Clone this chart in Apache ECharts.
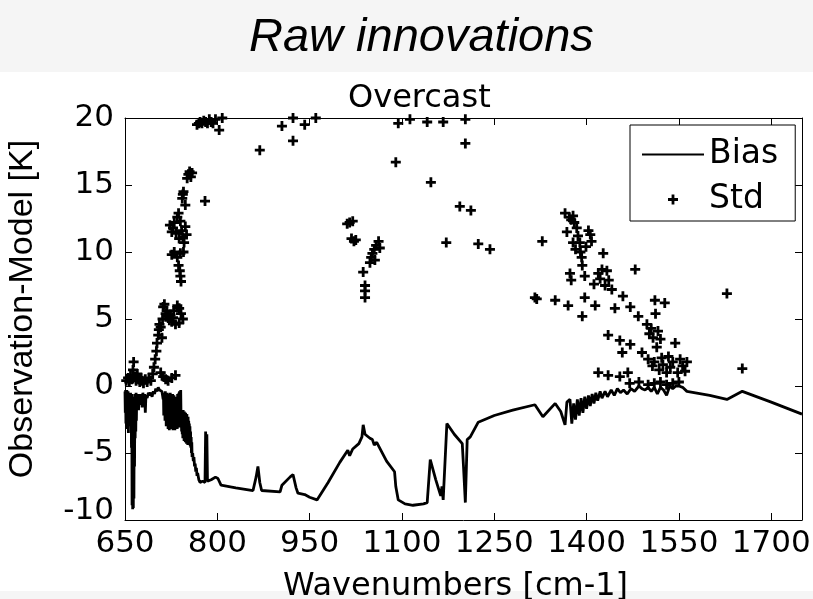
<!DOCTYPE html>
<html>
<head>
<meta charset="utf-8">
<script src="https://cdn.jsdelivr.net/npm/echarts@6/dist/echarts.min.js"></script>
<style>
  html, body { margin: 0; padding: 0; background: #ffffff; }
  #chart { width: 813px; height: 599px; }
</style>
</head>
<body>
<div id="chart"></div>
<script>
// Axis tick values
const xTicks = [650, 800, 950, 1100, 1250, 1400, 1550, 1700];
const yTicks = [-10, -5, 0, 5, 10, 15, 20];

// Bias per channel: [wavenumber (cm-1), observation - model (K)]
const biasSeries = [
  [650, -0.4], [650.5, -2.0], [651, -0.3], [651.5, -2.8], [652, -0.5], [652.5, -1.6], [653, -0.3], [653.5, -3.2],
  [654, -0.6], [654.5, -2.2], [655, -0.4], [655.5, -3.5], [656, -0.7], [656.5, -1.8], [657, -0.5], [657.5, -2.6],
  [658, -0.6], [658.5, -1.4], [659, -0.5], [659.5, -3.0], [660, -0.7], [660.5, -4.6], [661, -0.6], [661.5, -8.9],
  [662, -0.8], [662.5, -9.2], [663, -1.0], [663.5, -9.1], [664, -0.9], [664.5, -8.4], [665, -0.8], [665.5, -6.0],
  [666, -0.6], [666.5, -3.9], [667, -0.7], [667.5, -3.4], [668, -0.5], [668.5, -2.6], [669, -0.8], [670, -1.2],
  [671, -0.6], [672, -1.8], [673, -0.9], [674, -1.4], [675, -0.6], [676, -1.1], [677, -0.7], [678, -1.6],
  [679, -0.5], [680, -1.0], [682, -0.6], [683, -2.0], [684, -0.7], [686, -0.9], [688, -0.5], [690, -0.7],
  [692, -0.5], [694, -0.8], [696, -0.4], [698, -0.6], [700, -0.2], [702, -0.4], [704, -0.1], [706, -0.3],
  [708, -0.2], [710, -0.4], [711, -0.3], [712, -1.0], [712.5, -0.6], [713, -2.2], [713.5, -0.5], [714, -1.8],
  [714.5, -0.7], [715, -2.6], [715.5, -0.4], [716, -1.4], [716.5, -0.6], [717, -3.0], [717.5, -0.8], [718, -2.1],
  [718.5, -0.5], [719, -2.9], [719.5, -0.9], [720, -3.2], [720.5, -0.6], [721, -2.4], [721.5, -1.0], [722, -3.3],
  [722.5, -0.7], [723, -2.7], [723.5, -0.5], [724, -3.1], [724.5, -1.1], [725, -2.5], [725.5, -0.6], [726, -3.2],
  [726.5, -0.9], [727, -2.8], [727.5, -0.6], [728, -3.3], [728.5, -1.2], [729, -2.6], [729.5, -0.7], [730, -3.0],
  [730.5, -1.0], [731, -3.3], [731.5, -0.8], [732, -2.7], [732.5, -1.3], [733, -3.1], [733.5, -0.9], [734, -2.9],
  [734.5, -1.1], [735, -3.2], [735.5, -0.6], [736, -2.8], [736.5, -1.4], [737, -3.0], [737.5, -0.5], [738, -2.5],
  [738.5, -0.4], [739, -3.1], [739.5, -1.2], [740, -2.7], [740.5, -0.3], [741, -2.2], [741.5, -1.9], [742, -3.4],
  [742.5, -1.8], [743, -3.6], [743.5, -2.0], [744, -3.9], [744.5, -1.8], [745, -3.7], [745.5, -2.2], [746, -4.1],
  [746.5, -1.9], [747, -3.8], [747.5, -2.3], [748, -4.2], [748.5, -2.0], [749, -4.0], [749.5, -2.4], [750, -4.3],
  [750.5, -2.1], [751, -3.9], [751.5, -2.5], [752, -4.4], [752.5, -2.3], [753, -4.1], [753.5, -2.6], [754, -4.3],
  [754.5, -2.8], [755, -4.4], [755.5, -3.0], [756, -4.5], [756.5, -3.4], [757, -4.6], [757.5, -3.8], [758, -5.0],
  [758.5, -4.2], [759, -5.3], [760, -5.0], [761, -5.6], [762, -5.3], [763, -6.0], [764, -5.8], [765, -6.4],
  [766, -6.1], [767, -6.7], [768, -6.5], [770, -7.0], [772, -7.2], [776, -7.1], [780, -7.2], [781, -3.4],
  [782, -7.0], [783, -3.6], [784, -7.1], [790, -7.0], [797, -6.8], [801, -6.9], [806, -7.4], [809, -7.5],
  [830, -7.6], [858, -7.8], [863, -6.8], [866, -6.0], [869, -7.2], [872, -7.8], [902, -7.9], [905, -7.4],
  [918, -6.8], [923, -6.6], [928, -7.6], [931, -8.0], [942, -8.1], [950, -8.3], [962, -8.5], [980, -7.2],
  [999, -5.7], [1012, -4.8], [1015, -5.2], [1020, -4.7], [1030, -4.3], [1035, -3.8], [1037, -2.9], [1040, -3.6],
  [1043, -3.5], [1048, -3.9], [1052, -4.0], [1055, -4.4], [1059, -4.2], [1075, -5.6], [1088, -6.4], [1090, -7.5],
  [1094, -8.5], [1105, -8.8], [1118, -8.9], [1135, -8.8], [1141, -8.7], [1146, -5.5], [1155, -7.0], [1163, -8.2],
  [1165, -7.5], [1167, -8.5], [1173, -2.8], [1185, -3.6], [1198, -4.3], [1200, -6.0], [1203, -8.7], [1206, -4.0],
  [1211, -3.8], [1224, -2.7], [1250, -2.2], [1280, -1.8], [1316, -1.4], [1329, -2.3], [1349, -1.3], [1358, -1.9],
  [1365, -2.9], [1368, -1.2], [1373, -1.0], [1376, -2.8], [1379, -1.3], [1382, -2.5], [1385, -1.0], [1388, -2.2],
  [1391, -0.9], [1394, -2.0], [1397, -0.8], [1400, -1.7], [1403, -0.7], [1406, -1.5], [1409, -0.6], [1412, -1.3],
  [1415, -0.5], [1418, -1.1], [1422, -0.4], [1425, -0.9], [1430, -0.4], [1434, -0.8], [1440, -0.3], [1445, -0.7],
  [1450, -0.2], [1455, -0.5], [1460, -0.3], [1466, -0.6], [1472, -0.2], [1478, -0.4], [1485, 0.0], [1490, -0.2],
  [1495, -0.3], [1500, -0.1], [1505, -0.4], [1510, -0.1], [1515, -0.6], [1520, -0.1], [1525, -0.3], [1530, -0.7],
  [1535, 0.0], [1540, -0.2], [1545, 0.0], [1550, 0.0], [1556, -0.1], [1563, -0.4], [1600, -0.7], [1628, -1.0],
  [1653, -0.4], [1700, -1.2], [1750, -2.1]
];

// Standard deviation per channel: [wavenumber (cm-1), K]
const stdSeries = [
  [652, 0.4], [655, 0.6], [657, 0.3], [659, 0.8], [661, 0.5], [663, 1.2], [664, 1.8], [666, 0.7],
  [668, 0.4], [670, 0.9], [672, 0.5], [674, 0.3], [676, 0.6], [678, 0.4], [680, 0.2], [683, 0.5],
  [686, 0.3], [689, 0.6], [692, 0.4], [695, 0.9], [697, 1.4], [699, 2.0], [701, 2.6], [702, 3.2],
  [704, 3.8], [705, 4.2], [706, 4.6], [708, 4.4], [710, 3.6], [711, 5.0], [712, 5.9], [714, 6.1],
  [716, 5.4], [718, 5.6], [720, 5.2], [722, 4.9], [724, 5.3], [726, 4.8], [728, 5.1], [708, 1.0],
  [712, 0.7], [716, 0.5], [720, 0.4], [726, 0.6], [732, 0.8],
  [723, 12.0], [726, 11.5], [728, 11.8], [730, 12.2], [733, 11.4], [735, 12.6], [737, 12.9], [738, 11.0],
  [740, 12.3], [742, 11.6], [744, 11.1], [746, 10.7], [748, 11.9], [750, 11.3], [726, 9.8], [730, 10.0],
  [735, 9.6], [740, 9.9], [745, 10.0], [737, 9.0], [739, 8.6], [740, 8.2], [741, 7.8], [743, 14.0],
  [745, 14.5], [748, 13.5], [744, 14.3], [751, 15.5], [753, 15.8], [755, 16.0], [757, 15.6], [759, 15.9],
  [780, 13.8], [729, 5.6], [735, 6.0], [738, 5.8], [741, 5.4], [744, 5.0], [732, 4.6], [738, 4.7],
  [767, 19.5], [770, 19.6], [772, 19.7], [775, 19.6], [778, 19.8], [781, 19.7], [784, 19.6], [787, 19.9],
  [790, 19.7], [793, 19.6], [797, 19.9], [803, 19.1], [808, 20.0],
  [869, 17.6], [905, 19.4], [923, 20.0], [923, 18.3], [942, 19.5], [960, 20.0],
  [1011, 12.1], [1015, 12.2], [1020, 12.3], [1018, 11.0], [1022, 10.8], [1025, 10.9], [1037, 8.5], [1040, 7.5],
  [1040, 7.1], [1040, 6.6], [1048, 9.2], [1050, 9.6], [1052, 9.9], [1055, 10.2], [1058, 10.5], [1062, 10.8],
  [1064, 10.3], [1056, 9.4], [1090, 16.7], [1094, 19.6], [1113, 19.9], [1141, 19.7], [1147, 15.2], [1167, 19.7],
  [1172, 10.7], [1194, 13.4], [1203, 19.9], [1203, 18.1], [1212, 13.1], [1224, 10.6], [1243, 10.2],
  [1316, 6.6], [1319, 6.5], [1328, 10.8], [1349, 6.4], [1365, 12.9], [1368, 11.5], [1370, 6.0], [1372, 12.6],
  [1375, 12.4], [1378, 12.7], [1380, 12.2], [1373, 8.4], [1375, 7.9], [1378, 10.7], [1382, 10.2], [1384, 11.8],
  [1386, 11.2], [1389, 10.7], [1390, 10.0], [1392, 9.6], [1393, 9.0], [1393, 5.2], [1397, 8.2], [1397, 6.6],
  [1399, 10.4], [1403, 11.6], [1406, 11.3], [1408, 10.8], [1412, 7.6], [1414, 6.0], [1419, 8.4], [1419, 1.0],
  [1422, 8.0], [1425, 8.7], [1427, 9.9], [1430, 7.5], [1433, 8.6], [1436, 7.9], [1435, 3.8], [1435, 0.8],
  [1441, 7.2], [1446, 5.8], [1454, 3.4], [1454, 0.7], [1458, 2.5], [1459, 6.7], [1467, 1.0], [1471, 5.9],
  [1471, 3.1], [1479, 8.7], [1484, 5.2], [1490, 2.5], [1498, 4.6], [1500, 2.0], [1502, 3.9], [1505, 4.3],
  [1507, 1.5], [1508, 3.6], [1510, 1.8], [1511, 6.4], [1512, 5.4], [1514, 2.9], [1516, 4.1], [1518, 1.2],
  [1520, 3.5], [1522, 2.1], [1524, 1.6], [1527, 6.2], [1530, 1.0], [1533, 2.2], [1536, 1.4], [1540, 1.8],
  [1544, 3.2], [1548, 1.0], [1552, 2.0], [1556, 1.5], [1560, 1.1], [1563, 1.8], [1628, 6.9], [1653, 1.3],
  [1470, 0.2], [1485, 0.3], [1500, 0.1], [1510, 0.2], [1520, 0.3], [1530, 0.1], [1540, 0.2], [1550, 0.3]
];

const FONT = "'DejaVu Sans', 'Liberation Sans', sans-serif";
const PLUS = 'path://M-5,-1.4H-1.4V-5H1.4V-1.4H5V1.4H1.4V5H-1.4V1.4H-5Z';
const LINE_ICON = 'path://M0,0H62V2H0Z';

const chart = echarts.init(document.getElementById('chart'), null, { renderer: 'canvas' });

const xMin = xTicks[0], xMax = 1750, xStep = xTicks[1] - xTicks[0];
const yMin = yTicks[0], yMax = yTicks[yTicks.length - 1], yStep = yTicks[1] - yTicks[0];

const axisLine = { show: true, onZero: false, lineStyle: { color: '#000', width: 1 } };
const axisTick = { show: true, inside: true, length: 7, lineStyle: { color: '#000', width: 1 } };

chart.setOption({
  animation: false,
  backgroundColor: '#ffffff',
  graphic: [
    { type: 'rect', shape: { x: 0, y: 0, width: 813, height: 72 }, style: { fill: '#f5f5f5' }, z: -10, silent: true },
    { type: 'rect', shape: { x: 0, y: 591, width: 813, height: 8 }, style: { fill: '#f5f5f5' }, z: -10, silent: true }
  ],
  title: [
    {
      text: 'Raw innovations',
      left: 244, top: 9,
      textStyle: { fontFamily: "'Liberation Sans', Arial, sans-serif", fontStyle: 'italic', fontWeight: 'normal', fontSize: 47, color: '#000' }
    },
    {
      text: 'Overcast',
      left: 343, top: 78,
      textStyle: { fontFamily: FONT, fontWeight: 'normal', fontSize: 32, color: '#000' }
    }
  ],
  legend: {
    orient: 'vertical',
    left: 630, top: 125,
    padding: [13, 17, 5, 12],
    itemGap: 12,
    itemWidth: 62, itemHeight: 10,
    borderColor: '#000', borderWidth: 1,
    backgroundColor: '#fff',
    textStyle: { fontFamily: FONT, fontSize: 33, color: '#000' },
    data: [
      { name: 'Bias', icon: LINE_ICON, itemStyle: { color: '#000' } },
      { name: 'Std', icon: PLUS, itemStyle: { color: '#000' } }
    ]
  },
  grid: { left: 125, right: 11, top: 118, bottom: 79, containLabel: false, outerBoundsMode: 'none' },
  xAxis: [
    {
      type: 'value', position: 'bottom', min: xMin, max: xMax, interval: xStep,
      axisLine, axisTick, splitLine: { show: false },
      axisLabel: {
        show: true, margin: 8, fontFamily: FONT, fontSize: 31, color: '#000',
        formatter: v => (xTicks.indexOf(v) >= 0 ? String(v) : '')
      },
      name: 'Wavenumbers [cm-1]', nameLocation: 'middle', nameGap: 51,
      nameTextStyle: { fontFamily: FONT, fontSize: 32, color: '#000', padding: [0, 16, 0, 0] }
    },
    {
      type: 'value', position: 'top', min: xMin, max: xMax, interval: xStep,
      axisLine, axisTick, splitLine: { show: false }, axisLabel: { show: false }
    }
  ],
  yAxis: [
    {
      type: 'value', position: 'left', min: yMin, max: yMax, interval: yStep,
      axisLine, axisTick, splitLine: { show: false },
      axisLabel: {
        show: true, margin: 11, fontFamily: FONT, fontSize: 31, color: '#000',
        // lowest label sits a little higher, clear of the x labels
        formatter: v => (v === yMin ? '{low|' + v + '}' : String(v)),
        rich: { low: { fontFamily: FONT, fontSize: 31, color: '#000', padding: [0, 0, 18, 0] } }
      },
      name: 'Observation-Model [K]', nameLocation: 'middle', nameGap: 85, nameRotate: 90,
      nameTextStyle: { fontFamily: "'Liberation Sans', Arial, sans-serif", fontSize: 34, color: '#000', padding: [0, 0, 0, 20] }
    },
    {
      type: 'value', position: 'right', min: yMin, max: yMax, interval: yStep,
      axisLine, axisTick, splitLine: { show: false }, axisLabel: { show: false }
    }
  ],
  series: [
    {
      name: 'Bias', type: 'line', xAxisIndex: 0, yAxisIndex: 0,
      data: biasSeries, showSymbol: false, symbol: 'none',
      lineStyle: { color: '#000', width: 2.8 }, itemStyle: { color: '#000' },
      z: 3
    },
    {
      name: 'Std', type: 'scatter', xAxisIndex: 0, yAxisIndex: 0,
      data: stdSeries, symbol: PLUS, symbolSize: [10, 10],
      itemStyle: { color: '#000', opacity: 1 },
      z: 4
    }
  ]
});
</script>
</body>
</html>
